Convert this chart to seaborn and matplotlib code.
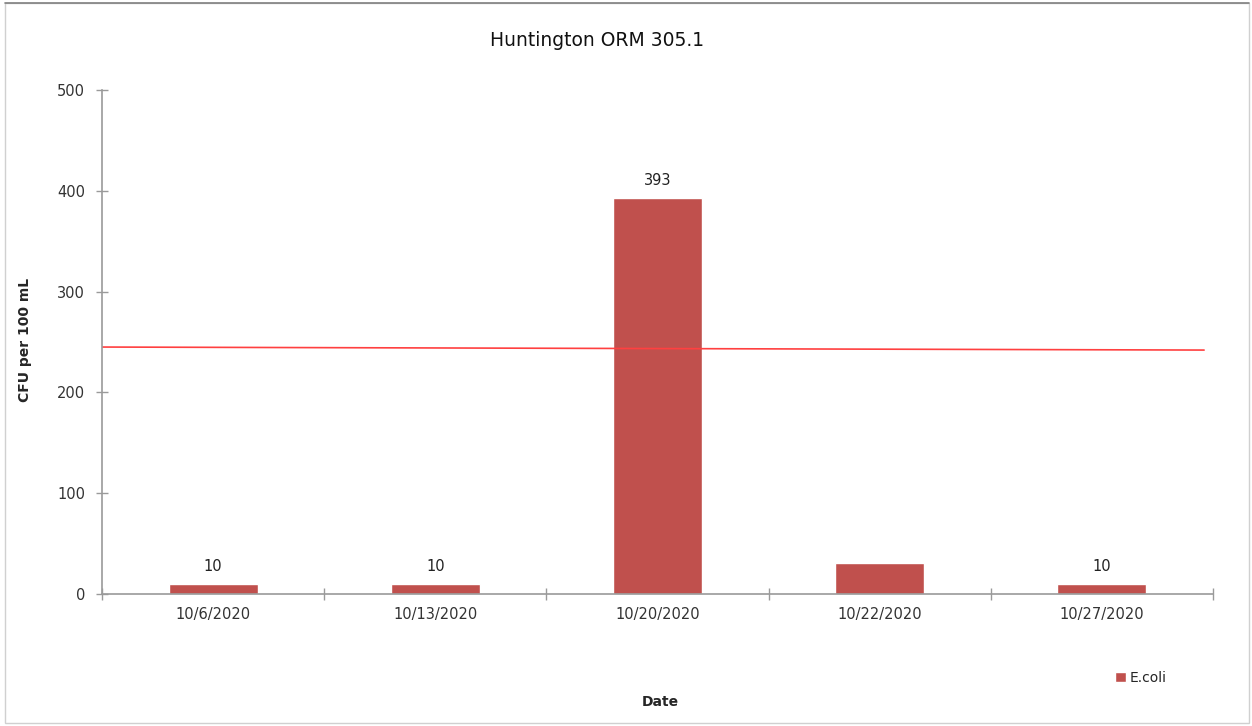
import numpy as np
import pandas as pd
import matplotlib
matplotlib.use("Agg")
import matplotlib.pyplot as plt
import seaborn as sns
from matplotlib.patches import Rectangle

dates = ['10/6/2020', '10/13/2020', '10/20/2020', '10/22/2020', '10/27/2020']
ecoli = [10, 10, 393, 31, 10]
bar_labels = ['10', '10', '393', '', '10']
threshold_start = 245
threshold_end = 242

sns.set_style("white")
plt.rcParams['font.family'] = ['DejaVu Sans']

df = pd.DataFrame({'Date': dates, 'E.coli': ecoli})

fig = plt.figure(figsize=(12.52, 7.26), dpi=100)
ax = fig.add_axes([102 / 1252, 1 - 594 / 726, (1213 - 102) / 1252, (594 - 90) / 726])

sns.barplot(data=df, x='Date', y='E.coli', color='#C0504D', width=0.4,
            saturation=1, ax=ax, label='E.coli')

ax.set_ylim(0, 500)
ax.set_xlim(-0.5, len(dates) - 0.5)
ax.set_yticks([0, 100, 200, 300, 400, 500])

for i, (v, t) in enumerate(zip(ecoli, bar_labels)):
    if t:
        ax.text(i, v + 10, t, ha='center', va='bottom', fontsize=10.5, color='#222222')

# red reference line
ax.plot([-0.5, len(dates) - 0.54], [threshold_start, threshold_end], color='#FF4040', lw=1.2)

for s in ['top', 'right']:
    ax.spines[s].set_visible(False)
for s in ['left', 'bottom']:
    ax.spines[s].set_color('#9A9A9A')
    ax.spines[s].set_linewidth(1.2)

ax.tick_params(axis='y', left=True, direction='inout', length=8.5, width=1, color='#9A9A9A',
               labelsize=10.5, labelcolor='#333333', pad=8)
ax.tick_params(axis='x', which='major', bottom=False, labelsize=10.5, labelcolor='#333333', pad=6)
# category separators on x axis
ax.set_xticks(np.arange(-0.5, len(dates) + 0.5, 1), minor=True)
ax.tick_params(axis='x', which='minor', bottom=True, direction='inout', length=8.5, width=1,
               color='#9A9A9A')

fig.text(597 / 1252, 1 - 40 / 726, 'Huntington ORM 305.1', fontsize=13.5,
         ha='center', va='center', color='#111111')
ax.set_ylabel('CFU per 100 mL', fontsize=10, fontweight='bold')
ax.yaxis.set_label_coords((25 - 102) / 1111, (594 - 340) / 504)
ax.set_xlabel('Date', fontsize=10, fontweight='bold')
ax.xaxis.set_label_coords((660 - 102) / 1111, (594 - 702) / 504)
ax.xaxis.label.set_va('center')
ax.yaxis.label.set_va('center')

ax.legend(loc='center left', bbox_to_anchor=(1102 / 1252, 1 - 678 / 726),
          bbox_transform=fig.transFigure, frameon=False, fontsize=10,
          handlelength=0.8, handleheight=0.8, handletextpad=0.3)

fig.patches.append(Rectangle((5 / 1252, 3 / 726), 1244 / 1252, 720 / 726,
                             transform=fig.transFigure, fill=False,
                             edgecolor='#D0D0D0', lw=1))
fig.lines.append(plt.Line2D([5 / 1252, 1249 / 1252], [1 - 3 / 726, 1 - 3 / 726],
                            transform=fig.transFigure, color='#808080', lw=1.2))

fig.savefig('out.png', dpi=100)
